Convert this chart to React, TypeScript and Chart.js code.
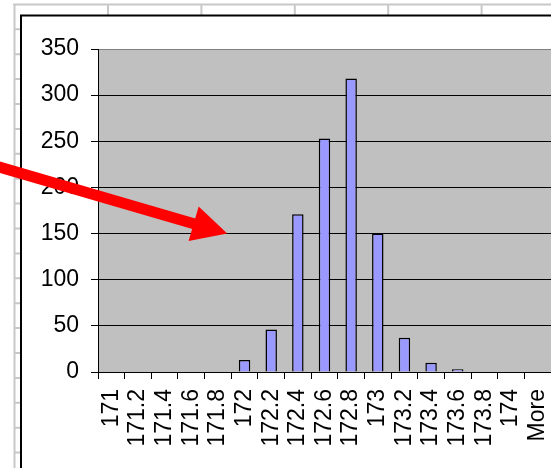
import React, { useEffect, useRef } from 'react';
import { Chart, registerables, Plugin } from 'chart.js';

Chart.register(...registerables);

const BIN_LABELS = [
  '171', '171.2', '171.4', '171.6', '171.8', '172', '172.2', '172.4', '172.6',
  '172.8', '173', '173.2', '173.4', '173.6', '173.8', '174', 'More',
];
const FREQUENCY = [0, 0, 0, 0, 0, 13, 46, 171, 253, 318, 150, 37, 10, 3, 0, 0, 0];
const Y_TICKS = [0, 50, 100, 150, 200, 250, 300, 350];

// red call-out arrow, in data units (bin index, frequency)
const ARROW_TAIL = { x: -4.2, y: 222 };
const ARROW_TIP = { x: 4.35, y: 150 };

const FONT = { family: "'Liberation Sans', Arial, sans-serif", size: 23 };

const sheetBackground: Plugin<'bar'> = {
  id: 'sheetBackground',
  beforeDraw(chart) {
    const { ctx, width, height, chartArea } = chart;
    ctx.save();
    ctx.fillStyle = '#fff';
    ctx.fillRect(0, 0, width, height);

    // spreadsheet cells showing around the embedded chart
    ctx.strokeStyle = '#c8c8c8';
    ctx.lineWidth = 2;
    ctx.beginPath();
    ctx.moveTo(13, 4.5);
    ctx.lineTo(width, 4.5);
    ctx.moveTo(14.5, 4);
    ctx.lineTo(14.5, height);
    for (let x = 108; x < width; x += 93.4) {
      ctx.moveTo(x, 4);
      ctx.lineTo(x, 16);
    }
    for (let y = 29.3; y < height; y += 24.9) {
      ctx.moveTo(14, y);
      ctx.lineTo(21, y);
    }
    ctx.stroke();

    // chart object frame
    ctx.strokeStyle = '#000';
    ctx.beginPath();
    ctx.moveTo(21, height);
    ctx.lineTo(21, 15.5);
    ctx.lineTo(width, 15.5);
    ctx.stroke();

    // plot area
    ctx.fillStyle = '#c0c0c0';
    ctx.fillRect(chartArea.left, chartArea.top, chartArea.right - chartArea.left, chartArea.bottom - chartArea.top);
    ctx.restore();
  },
};

const calloutArrow: Plugin<'bar'> = {
  id: 'calloutArrow',
  afterDraw(chart) {
    const { ctx } = chart;
    const xs = chart.scales.x;
    const ys = chart.scales.y;
    const x0 = xs.getPixelForValue(ARROW_TAIL.x);
    const y0 = ys.getPixelForValue(ARROW_TAIL.y);
    const x1 = xs.getPixelForValue(ARROW_TIP.x);
    const y1 = ys.getPixelForValue(ARROW_TIP.y);
    const len = Math.hypot(x1 - x0, y1 - y0);
    const ux = (x1 - x0) / len;
    const uy = (y1 - y0) / len;
    const headLen = 35;
    const headHalf = 18;
    const bx = x1 - ux * headLen;
    const by = y1 - uy * headLen;

    ctx.save();
    ctx.strokeStyle = '#ff0000';
    ctx.fillStyle = '#ff0000';
    ctx.lineWidth = 11;
    ctx.beginPath();
    ctx.moveTo(x0 - ux * 10, y0 - uy * 10);
    ctx.lineTo(bx + ux * 2, by + uy * 2);
    ctx.stroke();
    ctx.beginPath();
    ctx.moveTo(x1, y1);
    ctx.lineTo(bx - uy * headHalf, by + ux * headHalf);
    ctx.lineTo(bx + uy * headHalf, by - ux * headHalf);
    ctx.closePath();
    ctx.fill();
    ctx.restore();
  },
};

const App: React.FC = () => {
  const canvasRef = useRef<HTMLCanvasElement>(null);

  useEffect(() => {
    if (!canvasRef.current) return;
    const chart = new Chart(canvasRef.current, {
      type: 'bar',
      data: {
        labels: BIN_LABELS,
        datasets: [
          {
            label: 'Frequency',
            data: FREQUENCY,
            backgroundColor: '#9999ff',
            borderColor: '#000',
            borderWidth: 1.5,
            barPercentage: 0.43,
            categoryPercentage: 1,
          },
        ],
      },
      options: {
        animation: false,
        responsive: true,
        maintainAspectRatio: false,
        layout: { padding: { top: 49, right: 0, bottom: 0, left: 0 } },
        plugins: {
          legend: { display: false },
          tooltip: { enabled: false },
        },
        scales: {
          x: {
            grid: {
              offset: true,
              drawOnChartArea: false,
              tickLength: 7,
              tickColor: '#000',
            },
            border: { color: '#000', width: 1 },
            ticks: {
              color: '#000',
              font: FONT,
              minRotation: 90,
              maxRotation: 90,
              autoSkip: false,
              padding: 10,
            },
            afterFit: (scale) => {
              scale.height = 96;
              // plot runs off the right edge of the window, like the screenshot
              scale.paddingLeft = 0;
              scale.paddingRight = 0;
            },
          },
          y: {
            min: Y_TICKS[0],
            max: Y_TICKS[Y_TICKS.length - 1],
            ticks: {
              stepSize: Y_TICKS[1] - Y_TICKS[0],
              color: '#000',
              font: FONT,
              padding: 12,
            },
            grid: {
              color: (c) => (c.tick && c.tick.value === Y_TICKS[Y_TICKS.length - 1] ? '#808080' : '#000'),
              tickColor: '#000',
              tickLength: 7,
              lineWidth: 1,
            },
            border: { color: '#000', width: 1 },
            afterFit: (scale) => {
              scale.width = 98;
            },
          },
        },
      },
      plugins: [sheetBackground, calloutArrow],
    });
    return () => {
      chart.destroy();
    };
  }, []);

  return (
    <div style={{ position: 'fixed', left: 0, top: 0, width: 551, height: 468 }}>
      <canvas ref={canvasRef} />
    </div>
  );
};

export default App;
